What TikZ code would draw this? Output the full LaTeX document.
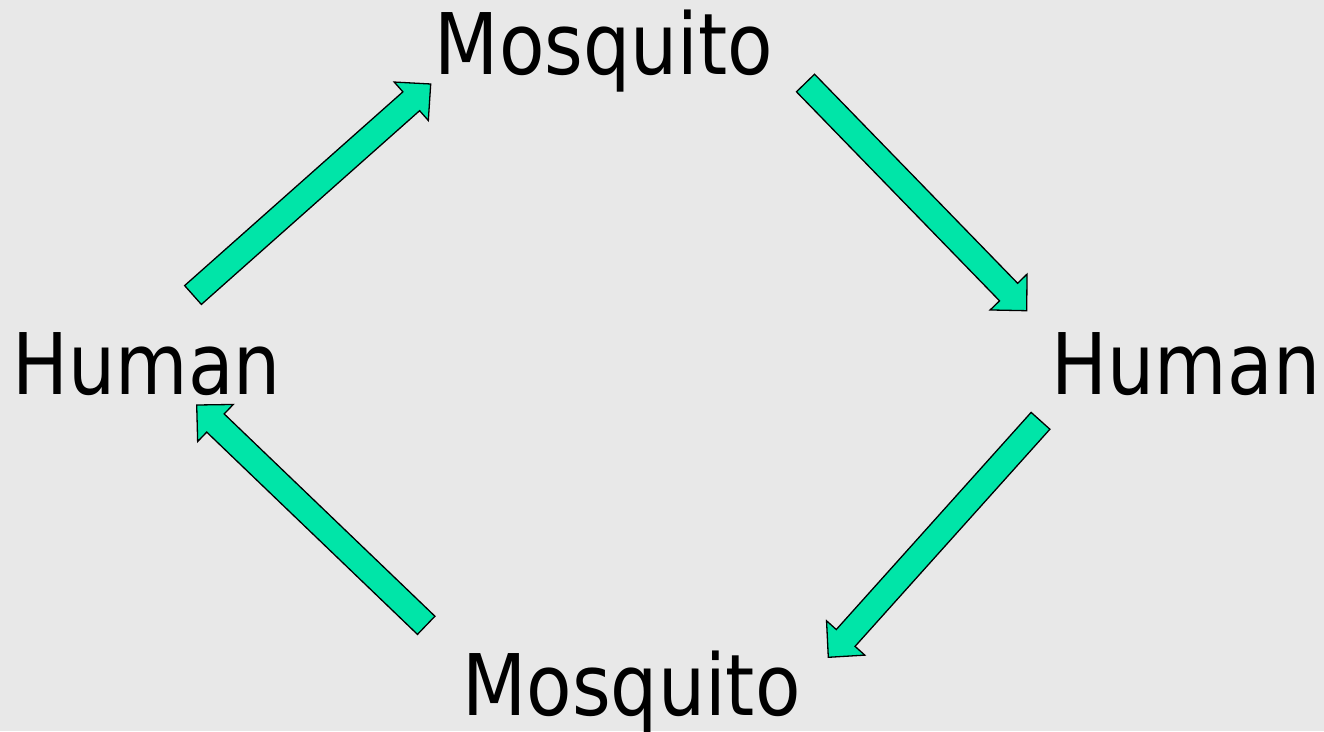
\documentclass[tikz,border=0pt]{standalone}
\usepackage{fontspec}
\setmainfont{DejaVu Sans}[FakeStretch=0.875]
\usetikzlibrary{calc}
\definecolor{bg}{RGB}{232,232,232}
\definecolor{arrowgreen}{RGB}{0,229,168}
\tikzset{
  label text/.style={inner sep=0pt, anchor=base, font=\fontsize{85}{100}\selectfont, text=black},
  blockarrow/.style={fill=arrowgreen, draw=black, line width=1.3pt, line join=miter}
}
\newcommand{\blockarrow}[2]{%
  \coordinate (#1-base) at ($(#2)!26pt!(#1)$);
  \draw[blockarrow]
    ($(#1)!12.6pt!90:(#2)$) --
    ($(#1-base)!12.6pt!90:(#2)$) --
    ($(#1-base)!25.7pt!90:(#2)$) --
    (#2) --
    ($(#1-base)!25.7pt!-90:(#2)$) --
    ($(#1-base)!12.6pt!-90:(#2)$) --
    ($(#1)!12.6pt!-90:(#2)$) -- cycle;
}
\begin{document}
\begin{tikzpicture}[x=1pt,y=-1pt]
  \fill[bg] (0,0) rectangle (1324,731);
  \useasboundingbox (0,0) rectangle (1324,731);
  % labels
  \node[label text] (mosqtop) at (604,74) {Mosquito};
  \node[label text] (humanright) at (1186,394) {Human};
  \node[label text] (mosqbot) at (631.5,715) {Mosquito};
  \node[label text] (humanleft) at (146.7,394) {Human};
  % arrow end points
  \coordinate (a1tail) at (193,295);
  \coordinate (a1tip) at (430.7,84);
  \coordinate (a2tail) at (805.5,83);
  \coordinate (a2tip) at (1026.7,310.7);
  \coordinate (a3tail) at (1040.5,420.8);
  \coordinate (a3tip) at (828.3,657.3);
  \coordinate (a4tail) at (426.2,625.3);
  \coordinate (a4tip) at (196.7,405);
  \blockarrow{a1tail}{a1tip}
  \blockarrow{a2tail}{a2tip}
  \blockarrow{a3tail}{a3tip}
  \blockarrow{a4tail}{a4tip}
\end{tikzpicture}
\end{document}
